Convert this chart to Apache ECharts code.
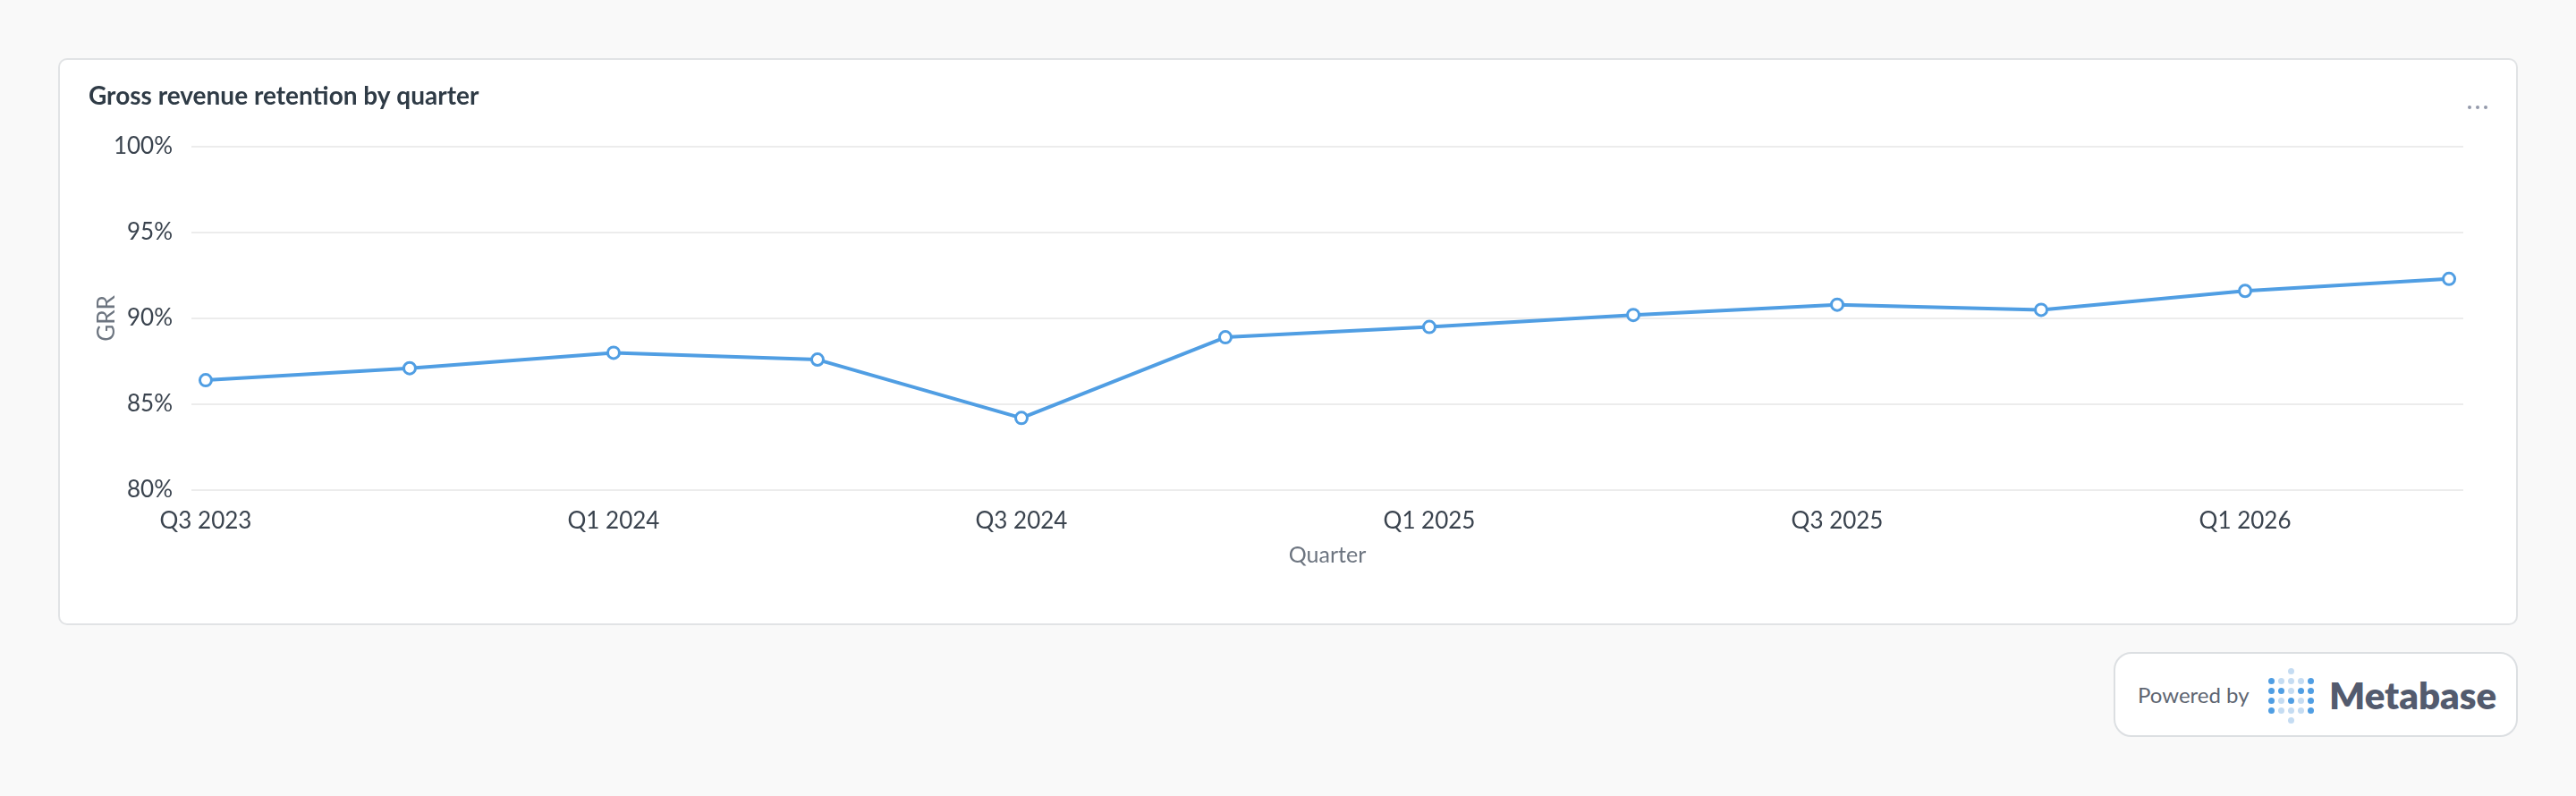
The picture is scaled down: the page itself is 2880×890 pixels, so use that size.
<!DOCTYPE html>
<html>
<head>
<meta charset="utf-8">
<script src="https://cdn.jsdelivr.net/npm/echarts@6/dist/echarts.min.js"></script>
<style>
    html, body { margin: 0; padding: 0; background: #f9f9f9; font-family: Lato, sans-serif; }
    #page { position: relative; width: 2880px; height: 890px; overflow: hidden; }
    #card {
        position: absolute; left: 65px; top: 65px; width: 2750px; height: 634px;
        box-sizing: border-box; background: #fff; border: 2px solid #e1e3e5; border-radius: 10px;
    }
    #chart { position: absolute; left: 0; top: 0; width: 2880px; height: 890px; }
    #menu { position: absolute; left: 2759px; top: 106px; }
    #menu span { display: inline-block; width: 4px; height: 4px; border-radius: 2px; background: #949aab; margin-right: 5px; }
    #badge {
        position: absolute; left: 2363px; top: 729px; width: 452px; height: 95px;
        box-sizing: border-box; background: #fff; border: 2px solid #dcdfe2; border-radius: 20px;
    }
    #powered { position: absolute; left: 2390px; top: 765px; font-size: 24px; line-height: 24px; color: #5e6571; }
    #brand { position: absolute; left: 2604px; top: 756px; font-size: 42px; line-height: 42px; font-weight: 800; color: #535b6e; }
    .dot { position: absolute; width: 7px; height: 7px; border-radius: 4px; }
</style>
</head>
<body>
<div id="page">
    <div id="card"></div>
    <div id="chart"></div>
    <div id="menu"><span></span><span></span><span></span></div>
    <div id="badge"></div>
    <div id="powered">Powered by</div>
    <div id="logo"></div>
    <div id="brand">Metabase</div>
</div>
<script>
// chart data
const quarters = ['Q3 2023', 'Q4 2023', 'Q1 2024', 'Q2 2024', 'Q3 2024', 'Q4 2024',
                  'Q1 2025', 'Q2 2025', 'Q3 2025', 'Q4 2025', 'Q1 2026', 'Q2 2026'];
const grr = [86.4, 87.1, 88.0, 87.6, 84.2, 88.9, 89.5, 90.2, 90.8, 90.5, 91.6, 92.3];
const labelledQuarters = [0, 2, 4, 6, 8, 10];

// logo dots: 0 none, 1 dark, 2 light
const logoRows = [
    [0, 0, 2, 0, 0],
    [1, 2, 2, 2, 1],
    [1, 1, 2, 1, 1],
    [1, 2, 1, 2, 1],
    [1, 2, 2, 2, 1],
    [0, 0, 2, 0, 0]
];

let logo = document.getElementById('logo');
logoRows.forEach(function (row, r) {
    row.forEach(function (v, c) {
        if (!v) return;
        let d = document.createElement('div');
        d.className = 'dot';
        d.style.left = (2535.5 + c * 11.2) + 'px';
        d.style.top = (747.2 + r * 10.9) + 'px';
        d.style.background = v === 1 ? '#509ee3' : '#c5dcf2';
        logo.appendChild(d);
    });
});

let chart = echarts.init(document.getElementById('chart'));
let option = {
    animation: false,
    title: {
        text: 'Gross revenue retention by quarter',
        left: 94,
        top: 89,
        textStyle: { fontFamily: 'Lato', fontSize: 28, fontWeight: 'bold', color: '#2f3b46' }
    },
    grid: { left: 214, right: 126, top: 164, bottom: 342 },
    xAxis: {
        type: 'value',
        min: -0.07,
        max: 11.07,
        name: 'Quarter',
        nameLocation: 'middle',
        nameGap: 60,
        nameMoveOverlap: false,
        nameTextStyle: { fontFamily: 'Lato', fontSize: 25, color: '#6d7580' },
        axisLine: { show: false },
        axisTick: { show: false },
        splitLine: { show: false },
        axisLabel: {
            customValues: labelledQuarters,
            margin: 22,
            fontFamily: 'Lato',
            fontSize: 26,
            color: '#3a434e',
            formatter: function (v) { return quarters[Math.round(v)]; }
        }
    },
    yAxis: {
        type: 'value',
        min: 80,
        max: 100,
        interval: 5,
        name: 'GRR',
        nameLocation: 'middle',
        nameGap: 81,
        nameMoveOverlap: false,
        nameTextStyle: { fontFamily: 'Lato', fontSize: 26, color: '#6d7580' },
        axisLine: { show: false },
        axisTick: { show: false },
        splitLine: { lineStyle: { color: '#ececec', width: 2 } },
        axisLabel: {
            margin: 21,
            fontFamily: 'Lato',
            fontSize: 26,
            color: '#3a434e',
            formatter: '{value}%'
        }
    },
    series: [{
        type: 'line',
        data: grr.map(function (v, i) { return [i, v]; }),
        symbol: 'circle',
        symbolSize: 13,
        lineStyle: { color: '#509ee3', width: 4 },
        itemStyle: { color: '#fff', borderColor: '#509ee3', borderWidth: 3 }
    }]
};
chart.setOption(option);
</script>
</body>
</html>
